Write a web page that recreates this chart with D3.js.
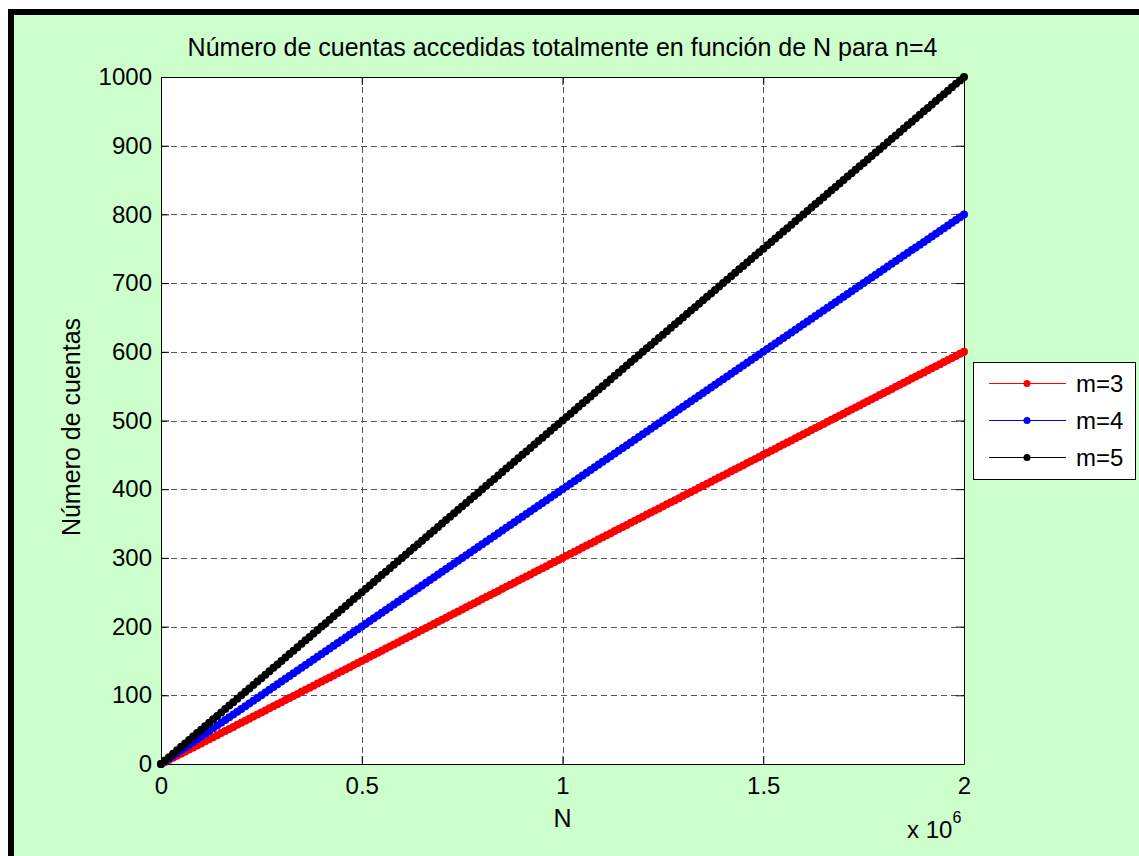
<!DOCTYPE html>
<html>
<head>
<meta charset="utf-8">
<script src="https://cdn.jsdelivr.net/npm/d3@7"></script>
<style>
  html, body { margin: 0; padding: 0; background: #ffffff; }
  svg { display: block; }
  text { font-family: "Liberation Sans", Arial, sans-serif; fill: #000; }
</style>
</head>
<body>
<script>
// N in units of 10^6 (the axis shows the "x 10^6" multiplier)
const nMillones = [
  0,0.01,0.02,0.03,0.04,0.05,0.06,0.07,0.08,0.09,
  0.10,0.11,0.12,0.13,0.14,0.15,0.16,0.17,0.18,0.19,
  0.20,0.21,0.22,0.23,0.24,0.25,0.26,0.27,0.28,0.29,
  0.30,0.31,0.32,0.33,0.34,0.35,0.36,0.37,0.38,0.39,
  0.40,0.41,0.42,0.43,0.44,0.45,0.46,0.47,0.48,0.49,
  0.50,0.51,0.52,0.53,0.54,0.55,0.56,0.57,0.58,0.59,
  0.60,0.61,0.62,0.63,0.64,0.65,0.66,0.67,0.68,0.69,
  0.70,0.71,0.72,0.73,0.74,0.75,0.76,0.77,0.78,0.79,
  0.80,0.81,0.82,0.83,0.84,0.85,0.86,0.87,0.88,0.89,
  0.90,0.91,0.92,0.93,0.94,0.95,0.96,0.97,0.98,0.99,
  1.00,1.01,1.02,1.03,1.04,1.05,1.06,1.07,1.08,1.09,
  1.10,1.11,1.12,1.13,1.14,1.15,1.16,1.17,1.18,1.19,
  1.20,1.21,1.22,1.23,1.24,1.25,1.26,1.27,1.28,1.29,
  1.30,1.31,1.32,1.33,1.34,1.35,1.36,1.37,1.38,1.39,
  1.40,1.41,1.42,1.43,1.44,1.45,1.46,1.47,1.48,1.49,
  1.50,1.51,1.52,1.53,1.54,1.55,1.56,1.57,1.58,1.59,
  1.60,1.61,1.62,1.63,1.64,1.65,1.66,1.67,1.68,1.69,
  1.70,1.71,1.72,1.73,1.74,1.75,1.76,1.77,1.78,1.79,
  1.80,1.81,1.82,1.83,1.84,1.85,1.86,1.87,1.88,1.89,
  1.90,1.91,1.92,1.93,1.94,1.95,1.96,1.97,1.98,1.99,
  2.00
];

// Número de cuentas accedidas totalmente, m = 3
const cuentasM3 = [
  0,3,6,9,12,15,18,21,24,27,
  30,33,36,39,42,45,48,51,54,57,
  60,63,66,69,72,75,78,81,84,87,
  90,93,96,99,102,105,108,111,114,117,
  120,123,126,129,132,135,138,141,144,147,
  150,153,156,159,162,165,168,171,174,177,
  180,183,186,189,192,195,198,201,204,207,
  210,213,216,219,222,225,228,231,234,237,
  240,243,246,249,252,255,258,261,264,267,
  270,273,276,279,282,285,288,291,294,297,
  300,303,306,309,312,315,318,321,324,327,
  330,333,336,339,342,345,348,351,354,357,
  360,363,366,369,372,375,378,381,384,387,
  390,393,396,399,402,405,408,411,414,417,
  420,423,426,429,432,435,438,441,444,447,
  450,453,456,459,462,465,468,471,474,477,
  480,483,486,489,492,495,498,501,504,507,
  510,513,516,519,522,525,528,531,534,537,
  540,543,546,549,552,555,558,561,564,567,
  570,573,576,579,582,585,588,591,594,597,
  600
];

// m = 4
const cuentasM4 = [
  0,4,8,12,16,20,24,28,32,36,
  40,44,48,52,56,60,64,68,72,76,
  80,84,88,92,96,100,104,108,112,116,
  120,124,128,132,136,140,144,148,152,156,
  160,164,168,172,176,180,184,188,192,196,
  200,204,208,212,216,220,224,228,232,236,
  240,244,248,252,256,260,264,268,272,276,
  280,284,288,292,296,300,304,308,312,316,
  320,324,328,332,336,340,344,348,352,356,
  360,364,368,372,376,380,384,388,392,396,
  400,404,408,412,416,420,424,428,432,436,
  440,444,448,452,456,460,464,468,472,476,
  480,484,488,492,496,500,504,508,512,516,
  520,524,528,532,536,540,544,548,552,556,
  560,564,568,572,576,580,584,588,592,596,
  600,604,608,612,616,620,624,628,632,636,
  640,644,648,652,656,660,664,668,672,676,
  680,684,688,692,696,700,704,708,712,716,
  720,724,728,732,736,740,744,748,752,756,
  760,764,768,772,776,780,784,788,792,796,
  800
];

// m = 5
const cuentasM5 = [
  0,5,10,15,20,25,30,35,40,45,
  50,55,60,65,70,75,80,85,90,95,
  100,105,110,115,120,125,130,135,140,145,
  150,155,160,165,170,175,180,185,190,195,
  200,205,210,215,220,225,230,235,240,245,
  250,255,260,265,270,275,280,285,290,295,
  300,305,310,315,320,325,330,335,340,345,
  350,355,360,365,370,375,380,385,390,395,
  400,405,410,415,420,425,430,435,440,445,
  450,455,460,465,470,475,480,485,490,495,
  500,505,510,515,520,525,530,535,540,545,
  550,555,560,565,570,575,580,585,590,595,
  600,605,610,615,620,625,630,635,640,645,
  650,655,660,665,670,675,680,685,690,695,
  700,705,710,715,720,725,730,735,740,745,
  750,755,760,765,770,775,780,785,790,795,
  800,805,810,815,820,825,830,835,840,845,
  850,855,860,865,870,875,880,885,890,895,
  900,905,910,915,920,925,930,935,940,945,
  950,955,960,965,970,975,980,985,990,995,
  1000
];

const serieNombres = ["m=3", "m=4", "m=5"];
const serieColores = ["#ff0000", "#0000ff", "#000000"];
const xTicks = [0, 0.5, 1, 1.5, 2];
const xTickLabels = ["0", "0.5", "1", "1.5", "2"];
const yTicks = [0, 100, 200, 300, 400, 500, 600, 700, 800, 900, 1000];

const W = 1139, H = 856;
const plot = { left: 161, right: 964, top: 77, bottom: 764 };
const tickFont = 24;
const labelFont = 25;

const svg = d3.select("body").append("svg")
  .attr("width", W).attr("height", H);

// Figure background and frame
svg.append("rect").attr("x", 8).attr("y", 9)
  .attr("width", W - 8).attr("height", H - 9).attr("fill", "#ccffcc");
svg.append("rect").attr("x", 8).attr("y", 9)
  .attr("width", W - 8).attr("height", 6).attr("fill", "#000");
svg.append("rect").attr("x", 8).attr("y", 9)
  .attr("width", 6).attr("height", H - 9).attr("fill", "#000");

const x = d3.scaleLinear().domain([0, 2]).range([plot.left, plot.right]);
const y = d3.scaleLinear().domain([0, 1000]).range([plot.bottom, plot.top]);

// Plot area
svg.append("rect")
  .attr("x", plot.left).attr("y", plot.top)
  .attr("width", plot.right - plot.left).attr("height", plot.bottom - plot.top)
  .attr("fill", "#fff");

// Dashed grid
const grid = svg.append("g").attr("stroke", "#555").attr("stroke-width", 1)
  .attr("stroke-dasharray", "6,4").attr("shape-rendering", "crispEdges");
grid.selectAll("line.gx").data(xTicks.slice(1, -1)).join("line")
  .attr("x1", d => Math.round(x(d)) + 0.5).attr("x2", d => Math.round(x(d)) + 0.5)
  .attr("y1", plot.top).attr("y2", plot.bottom);
grid.selectAll("line.gy").data(yTicks.slice(1, -1)).join("line")
  .attr("y1", d => Math.round(y(d)) + 0.5).attr("y2", d => Math.round(y(d)) + 0.5)
  .attr("x1", plot.left).attr("x2", plot.right);

// Axes with inward ticks
function styleAxis(g) {
  g.selectAll("path.domain").attr("stroke", "#000").attr("stroke-width", 1);
  g.selectAll(".tick line").attr("stroke", "#000");
  g.selectAll(".tick text").attr("font-size", tickFont).attr("fill", "#000")
    .attr("font-family", "Liberation Sans, Arial, sans-serif");
}
svg.append("g").attr("transform", `translate(0,${plot.bottom})`)
  .call(d3.axisBottom(x).tickValues(xTicks).tickFormat((d, i) => xTickLabels[i])
    .tickSizeInner(-8).tickSizeOuter(0).tickPadding(13))
  .call(styleAxis);
svg.append("g").attr("transform", `translate(0,${plot.top})`)
  .call(d3.axisTop(x).tickValues(xTicks).tickFormat("")
    .tickSizeInner(-8).tickSizeOuter(0))
  .call(styleAxis);
svg.append("g").attr("transform", `translate(${plot.left},0)`)
  .call(d3.axisLeft(y).tickValues(yTicks).tickFormat(d3.format("d"))
    .tickSizeInner(-8).tickSizeOuter(0).tickPadding(9))
  .call(styleAxis);
svg.append("g").attr("transform", `translate(${plot.right},0)`)
  .call(d3.axisRight(y).tickValues(yTicks).tickFormat("")
    .tickSizeInner(-8).tickSizeOuter(0))
  .call(styleAxis);

// Series: thin line with dense point markers
const series = [cuentasM3, cuentasM4, cuentasM5];
const line = d3.line().x((d, i) => x(nMillones[i])).y(d => y(d));
series.forEach((vals, k) => {
  const g = svg.append("g");
  g.append("path").datum(vals).attr("d", line)
    .attr("fill", "none").attr("stroke", serieColores[k]).attr("stroke-width", 1);
  g.selectAll("circle").data(vals).join("circle")
    .attr("cx", (d, i) => x(nMillones[i])).attr("cy", d => y(d))
    .attr("r", 4).attr("fill", serieColores[k]);
});

// Title and axis labels
svg.append("text").attr("x", (plot.left + plot.right) / 2).attr("y", 56)
  .attr("text-anchor", "middle").attr("font-size", labelFont)
  .text("Número de cuentas accedidas totalmente en función de N para n=4");
svg.append("text").attr("x", (plot.left + plot.right) / 2).attr("y", 827)
  .attr("text-anchor", "middle").attr("font-size", labelFont).text("N");
svg.append("text").attr("transform", "translate(80,427) rotate(-90)")
  .attr("text-anchor", "middle").attr("font-size", labelFont)
  .text("Número de cuentas");

// Axis multiplier
const mult = svg.append("text").attr("x", 907).attr("y", 838).attr("font-size", tickFont);
mult.append("tspan").text("x 10");
mult.append("tspan").attr("dy", -15).attr("font-size", 16).text("6");

// Legend
const leg = { x: 973, y: 362, w: 162, h: 117, row0: 383, rowStep: 37 };
svg.append("rect").attr("x", leg.x + 0.5).attr("y", leg.y + 0.5)
  .attr("width", leg.w).attr("height", leg.h)
  .attr("fill", "#fff").attr("stroke", "#000").attr("stroke-width", 1);
serieNombres.forEach((nombre, k) => {
  const yy = leg.row0 + k * leg.rowStep;
  svg.append("line").attr("x1", 989).attr("x2", 1066)
    .attr("y1", yy + 0.5).attr("y2", yy + 0.5)
    .attr("stroke", serieColores[k]).attr("stroke-width", 1);
  svg.append("circle").attr("cx", 1027).attr("cy", yy + 0.5).attr("r", 3.5)
    .attr("fill", serieColores[k]);
  svg.append("text").attr("x", 1076).attr("y", yy).attr("dy", "0.36em")
    .attr("font-size", tickFont).text(nombre);
});
</script>
</body>
</html>
